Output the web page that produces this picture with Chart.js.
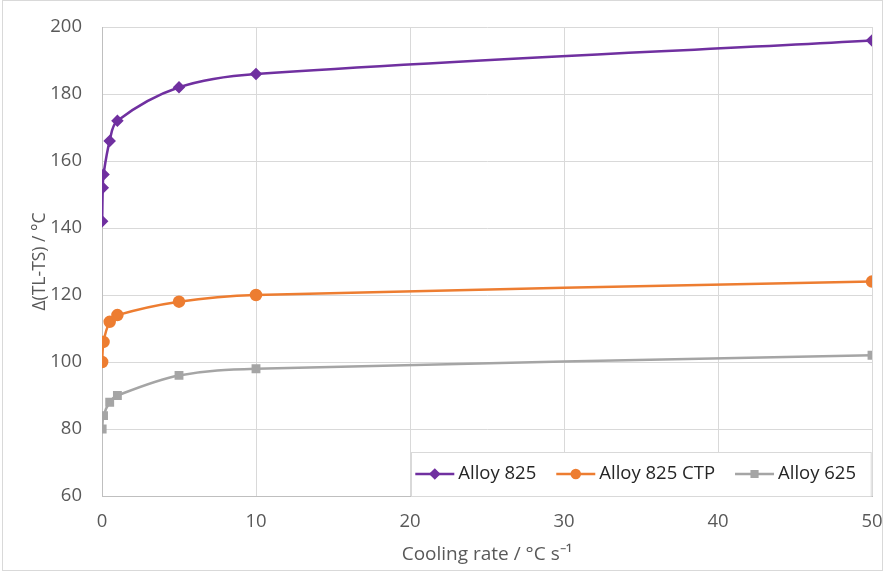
<!DOCTYPE html>
<html>
<head>
<meta charset="utf-8">
<script src="https://cdn.jsdelivr.net/npm/chart.js@4.4.0/dist/chart.umd.min.js"></script>
<style>
  html, body { margin: 0; padding: 0; background: #fff; }
  #wrap { position: relative; width: 884px; height: 574px; }
</style>
</head>
<body>
<div id="wrap"><canvas id="chart"></canvas></div>
<script>
// cooling rates (°C/s) and Δ(TL-TS) values
const rate825 = [0.01, 0.05, 0.1, 0.5, 1, 5, 10, 50];
const alloy825 = [142, 152, 156, 166, 172, 182, 186, 196];
const rateCtp = [0.01, 0.1, 0.5, 1, 5, 10, 50];
const alloy825ctp = [100, 106, 112, 114, 118, 120, 124];
const rate625 = [0.01, 0.1, 0.5, 1, 5, 10, 50];
const alloy625 = [80, 84, 88, 90, 96, 98, 102];
const xTicks = [0, 10, 20, 30, 40, 50];
const yTicks = [60, 80, 100, 120, 140, 160, 180, 200];

const FONT = '"Open Sans", sans-serif';
const toPts = (xs, ys) => xs.map((x, i) => ({ x: x, y: ys[i] }));

// legend drawn inside the plot, bottom right, like the Excel original
const boxLegend = {
  id: 'boxLegend',
  afterDraw(chart) {
    const c = chart.ctx, a = chart.chartArea;
    c.save();
    c.font = '18.5px ' + FONT;
    const seg = 39, gap = 4, sp = 20;
    let w = 4;
    chart.data.datasets.forEach(d => { w += seg + gap + c.measureText(d.label).width + sp; });
    w -= 4;
    const h = 44;
    const x0 = a.right - w, y0 = a.bottom - h;
    c.fillStyle = '#fff';
    c.fillRect(x0, y0, w, h);
    c.strokeStyle = '#d9d9d9';
    c.lineWidth = 1;
    c.strokeRect(Math.round(x0) + 0.5, Math.round(y0) + 0.5, w - 1, h);
    let x = x0 + 4;
    const cy = y0 + h / 2;
    chart.data.datasets.forEach(d => {
      c.strokeStyle = d.borderColor;
      c.lineWidth = 2.5;
      c.beginPath(); c.moveTo(x, cy); c.lineTo(x + seg, cy); c.stroke();
      Chart.helpers.drawPoint(c, {
        pointStyle: d.pointStyle, radius: 4, borderWidth: 1
      }, x + seg / 2, cy);
      c.fillStyle = d.pointBackgroundColor;
      c.fill();
      c.fillStyle = '#262626';
      c.textBaseline = 'middle';
      c.fillText(d.label, x + seg + gap, cy);
      x += seg + gap + c.measureText(d.label).width + sp;
    });
    c.restore();
  }
};

const frame = {
  id: 'frame',
  beforeDraw(chart) {
    const c = chart.ctx;
    c.save();
    c.strokeStyle = '#d9d9d9';
    c.lineWidth = 1;
    c.strokeRect(2.5, 0.5, 880, 570);
    c.restore();
  }
};

function ds(label, xs, ys, color, style, r) {
  return {
    label: label,
    data: toPts(xs, ys),
    borderColor: color,
    backgroundColor: color,
    pointBackgroundColor: color,
    pointBorderColor: color,
    borderWidth: 2.5,
    pointStyle: style,
    pointRadius: r,
    pointHoverRadius: r,
    tension: 0.35
  };
}

new Chart(document.getElementById('chart'), {
  type: 'line',
  data: {
    datasets: [
      ds('Alloy 825', rate825, alloy825, '#7030a0', 'rectRot', 4.5),
      ds('Alloy 825 CTP', rateCtp, alloy825ctp, '#ed7d31', 'circle', 5),
      ds('Alloy 625', rate625, alloy625, '#a5a5a5', 'rect', 4.5)
    ]
  },
  options: {
    responsive: true,
    maintainAspectRatio: false,
    animation: false,
    layout: { padding: { top: 27, right: 12, left: 0, bottom: 0 } },
    plugins: {
      legend: { display: false },
      tooltip: { enabled: false }
    },
    scales: {
      x: {
        type: 'linear',
        min: 0,
        max: 50,
        afterBuildTicks: s => { s.ticks = xTicks.map(v => ({ value: v })); },
        grid: { color: '#d9d9d9', drawTicks: false },
        border: { color: '#bfbfbf' },
        ticks: { color: '#595959', font: { family: FONT, size: 18.5 }, padding: 15 },
        title: {
          display: true,
          text: 'Cooling rate / °C s⁻¹',
          color: '#595959',
          font: { family: FONT, size: 19 },
          padding: { top: 3, bottom: 8 }
        },
        afterFit: s => { s.height = 78; s.paddingLeft = 0; s.paddingRight = 0; }
      },
      y: {
        min: 60,
        max: 200,
        afterBuildTicks: s => { s.ticks = yTicks.map(v => ({ value: v })); },
        grid: { color: '#d9d9d9', drawTicks: false },
        border: { color: '#bfbfbf' },
        ticks: { color: '#595959', font: { family: FONT, size: 18.5 }, padding: 20 },
        title: {
          display: true,
          text: 'Δ(TL-TS) / °C',
          color: '#595959',
          font: { family: FONT, size: 17.5 },
          padding: { top: 30, bottom: 0 }
        },
        afterFit: s => { s.width = 102; s.paddingTop = 0; s.paddingBottom = 0; }
      }
    }
  },
  plugins: [frame, boxLegend]
});
</script>
</body>
</html>
